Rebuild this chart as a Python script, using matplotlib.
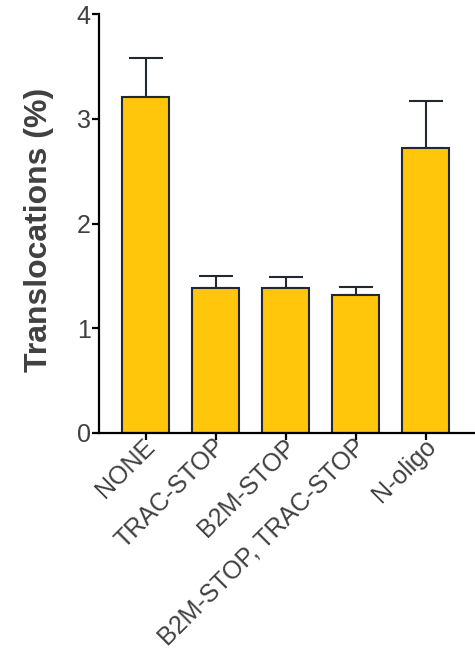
import matplotlib
matplotlib.use("Agg")
import matplotlib.pyplot as plt
from matplotlib.transforms import ScaledTranslation

categories = ["NONE", "TRAC-STOP", "B2M-STOP", "B2M-STOP, TRAC-STOP", "N-oligo"]
means = [3.21, 1.38, 1.38, 1.32, 2.72]
errors = [0.37, 0.12, 0.11, 0.07, 0.45]

plt.rcParams['font.family'] = ['Liberation Sans', 'DejaVu Sans']

fig = plt.figure(figsize=(4.75, 6.59), dpi=100)
ax = fig.add_axes([99/475, 226/659, 376/475, 419/659])

x = range(len(categories))
ax.bar(x, means, width=0.67, color='#FFC60B', edgecolor='#222831', linewidth=1.5, zorder=2)
ax.errorbar(x, means, yerr=[[0]*len(errors), errors], fmt='none', ecolor='#222831',
            elinewidth=1.5, capsize=12, capthick=1.5, zorder=1)

ax.set_xlim(-0.664, 4.70)
ax.set_ylim(0, 4)
ax.set_yticks([0, 1, 2, 3, 4])
ax.set_xticks(list(x))
ax.set_xticklabels(categories, rotation=45, ha='right', va='center', rotation_mode='anchor')

for s in ['top', 'right']:
    ax.spines[s].set_visible(False)
for s in ['left', 'bottom']:
    ax.spines[s].set_linewidth(1.6)
ax.tick_params(axis='both', width=1.6, length=5, labelsize=18, labelcolor='#404040', pad=1)
ax.tick_params(axis='x', pad=2)
# nudge the rotated labels a little to the right
offset = ScaledTranslation(6/100, 0, fig.dpi_scale_trans)
for lbl in ax.get_xticklabels():
    lbl.set_transform(lbl.get_transform() + offset)
ax.set_ylabel('Translocations (%)', fontsize=23, fontweight='bold', color='#404040')
ax.yaxis.set_label_coords(-0.12, 0.484)

fig.savefig('out.png', dpi=100)
